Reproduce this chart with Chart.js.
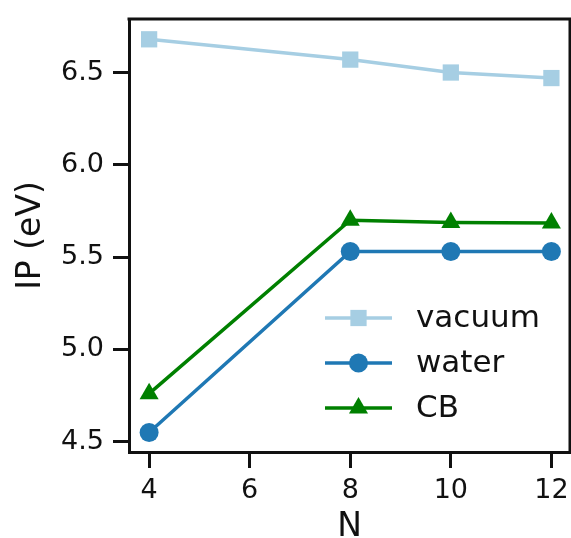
<!DOCTYPE html>
<html>
<head>
<meta charset="utf-8">
<script src="https://cdn.jsdelivr.net/npm/chart.js@4"></script>
<style>
  html, body { margin: 0; padding: 0; background: #ffffff; }
  #wrap { width: 571px; height: 538px; }
</style>
</head>
<body>
<div id="wrap"><canvas id="c" width="571" height="538"></canvas></div>
<script>
// ---- data ----
const nValues = [4, 8, 10, 12];
const vacuum = [6.68, 6.57, 6.50, 6.47];
const water = [4.55, 5.53, 5.53, 5.53];
const cb = [4.76, 5.70, 5.688, 5.685];
const xTicks = [4, 6, 8, 10, 12];
const yTicks = [4.5, 5.0, 5.5, 6.0, 6.5];
const seriesNames = ['vacuum', 'water', 'CB'];

const FONT = "'DejaVu Sans', sans-serif";
const INK = '#111111';

function pts(ys) { return nValues.map((x, i) => ({ x: x, y: ys[i] })); }

const framePlugin = {
  id: 'frame',
  afterDraw(chart) {
    const a = chart.chartArea, ctx = chart.ctx;
    ctx.save();
    ctx.strokeStyle = INK;
    ctx.lineWidth = 3;
    ctx.beginPath();
    ctx.moveTo(a.left - 1.5, a.top);
    ctx.lineTo(a.right, a.top);
    ctx.lineTo(a.right, a.bottom + 1.5);
    ctx.stroke();
    ctx.restore();
  }
};

const legendPlugin = {
  id: 'innerLegend',
  afterDatasetsDraw(chart) {
    const a = chart.chartArea, ctx = chart.ctx;
    const x0 = a.right - 245, x1 = a.right - 178, xt = a.right - 154;
    const y0 = a.bottom - 134, dy = 45;
    ctx.save();
    chart.data.datasets.forEach((ds, i) => {
      const y = y0 + i * dy;
      ctx.strokeStyle = ds.borderColor;
      ctx.lineWidth = ds.borderWidth;
      ctx.beginPath();
      ctx.moveTo(x0, y);
      ctx.lineTo(x1, y);
      ctx.stroke();
      ctx.fillStyle = ds.pointBackgroundColor;
      ctx.strokeStyle = ds.pointBorderColor;
      Chart.helpers.drawPoint(ctx, {
        pointStyle: ds.pointStyle, radius: ds.pointRadius, borderWidth: 0, rotation: 0
      }, (x0 + x1) / 2, y);
      ctx.fillStyle = INK;
      ctx.font = "31px " + FONT;
      ctx.textBaseline = 'middle';
      ctx.textAlign = 'left';
      ctx.fillText(ds.label, xt, y + 1);
    });
    ctx.restore();
  }
};

new Chart(document.getElementById('c'), {
  type: 'line',
  data: {
    datasets: [
      { label: seriesNames[0], data: pts(vacuum), borderColor: '#a6cee3', backgroundColor: '#a6cee3',
        pointBackgroundColor: '#a6cee3', pointBorderColor: '#a6cee3', pointStyle: 'rect', pointRadius: 11.5,
        borderWidth: 3.5, pointBorderWidth: 0 },
      { label: seriesNames[1], data: pts(water), borderColor: '#1f78b4', backgroundColor: '#1f78b4',
        pointBackgroundColor: '#1f78b4', pointBorderColor: '#1f78b4', pointStyle: 'circle', pointRadius: 9.5,
        borderWidth: 3.5, pointBorderWidth: 0 },
      { label: seriesNames[2], data: pts(cb), borderColor: '#008000', backgroundColor: '#008000',
        pointBackgroundColor: '#008000', pointBorderColor: '#008000', pointStyle: 'triangle', pointRadius: 11,
        borderWidth: 3.5, pointBorderWidth: 0 }
    ]
  },
  options: {
    responsive: false,
    animation: false,
    devicePixelRatio: 1,
    layout: { autoPadding: false, padding: { top: 19, right: 1, left: 0, bottom: 0 } },
    elements: { line: { tension: 0 } },
    plugins: { legend: { display: false }, tooltip: { enabled: false } },
    scales: {
      x: {
        type: 'linear', min: 3.6, max: 12.37,
        afterBuildTicks: s => { s.ticks = xTicks.map(v => ({ value: v })); },
        afterFit: s => { s.height = 86; s.paddingLeft = 0; s.paddingRight = 0; },
        ticks: { font: { family: FONT, size: 27 }, color: INK, padding: 7, maxRotation: 0,
                 callback: v => String(v) },
        grid: { drawOnChartArea: false, tickLength: 16, tickWidth: 3, tickColor: INK },
        border: { display: true, width: 3, color: INK },
        title: { display: true, text: 'N', font: { family: FONT, size: 33 }, color: INK, padding: { top: 0, bottom: -9 } }
      },
      y: {
        type: 'linear', min: 4.444, max: 6.79,
        afterBuildTicks: s => { s.ticks = yTicks.map(v => ({ value: v })); },
        afterFit: s => { s.width = 129; s.paddingTop = 0; s.paddingBottom = 0; },
        ticks: { font: { family: FONT, size: 27 }, color: INK, padding: 9,
                 callback: v => Number(v).toFixed(1) },
        grid: { drawOnChartArea: false, tickLength: 16, tickWidth: 3, tickColor: INK },
        border: { display: true, width: 3, color: INK },
        title: { display: true, text: 'IP (eV)', font: { family: FONT, size: 33 }, color: INK, padding: { top: 12, bottom: 0 } }
      }
    }
  },
  plugins: [framePlugin, legendPlugin]
});
</script>
</body>
</html>
